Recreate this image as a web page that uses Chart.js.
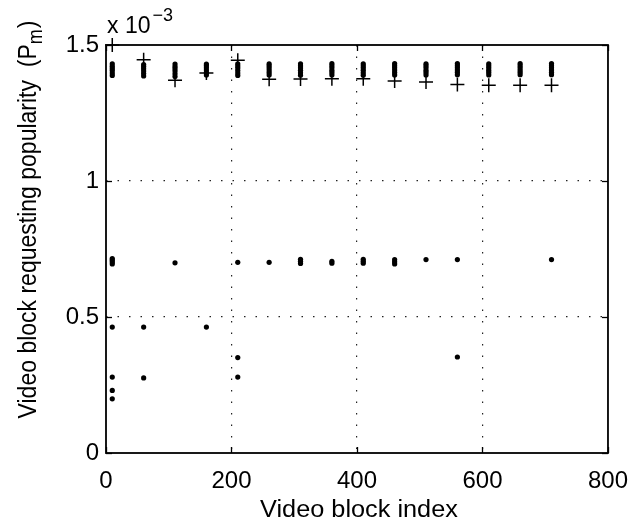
<!DOCTYPE html>
<html><head><meta charset="utf-8">
<script src="https://cdn.jsdelivr.net/npm/chart.js@4.4.0/dist/chart.umd.min.js"></script>
<style>html,body{margin:0;padding:0;background:#fff;}#wrap{width:642px;height:524px;}</style>
</head><body><div id="wrap"><canvas id="c" width="642" height="524"></canvas></div>
<script>
// Values of popularity are in units of 1e-3
const xTicks = [0, 200, 400, 600, 800];
const yTicks = [0, 0.5, 1, 1.5];
const blockIndex = [10, 60, 110, 160, 210, 260, 310, 360, 410, 460, 510, 560, 610, 660, 710];
// "+" markers, one per block
const plusValues = [1.500, 1.446, 1.370, 1.397, 1.444, 1.374, 1.375, 1.376, 1.376, 1.368, 1.364, 1.355, 1.352, 1.352, 1.352];
// dense dot stacks near the top, one list per block
const topStacks = [
  [1.388, 1.397, 1.406, 1.414, 1.422, 1.431],
  [1.386, 1.395, 1.404, 1.413, 1.421, 1.428],
  [1.384, 1.394, 1.404, 1.413, 1.421, 1.430],
  [1.390, 1.399, 1.408, 1.416, 1.424, 1.430],
  [1.388, 1.397, 1.406, 1.415, 1.423, 1.431],
  [1.390, 1.399, 1.408, 1.416, 1.424, 1.431],
  [1.389, 1.398, 1.407, 1.415, 1.423, 1.431],
  [1.390, 1.399, 1.407, 1.416, 1.424, 1.432],
  [1.389, 1.398, 1.407, 1.415, 1.423, 1.431],
  [1.390, 1.399, 1.408, 1.416, 1.424, 1.432],
  [1.390, 1.399, 1.407, 1.416, 1.424, 1.431],
  [1.391, 1.400, 1.408, 1.416, 1.424, 1.432],
  [1.390, 1.399, 1.407, 1.415, 1.423, 1.431],
  [1.391, 1.400, 1.408, 1.416, 1.424, 1.432],
  [1.391, 1.399, 1.408, 1.416, 1.424, 1.432]
];
// scattered dots at lower levels: block index and value
const lowDotBlock = [10, 10, 10, 10, 110, 210, 260, 310, 310, 310, 360, 360, 410, 410, 410, 460, 460, 460, 510, 560, 710,
                     10, 60, 160, 210, 560, 10, 60, 210, 10, 10];
const lowDotValue = [0.695, 0.702, 0.709, 0.715, 0.699, 0.701, 0.701, 0.697, 0.705, 0.712, 0.698, 0.705, 0.698, 0.705, 0.712, 0.695, 0.703, 0.711, 0.711, 0.711, 0.711,
                     0.463, 0.463, 0.463, 0.351, 0.353, 0.279, 0.276, 0.279, 0.230, 0.199];

const dotPoints = [];
blockIndex.forEach((b, i) => topStacks[i].forEach(v => dotPoints.push({x: b, y: v})));
lowDotBlock.forEach((b, i) => dotPoints.push({x: b, y: lowDotValue[i]}));
const plusPoints = blockIndex.map((b, i) => ({x: b, y: plusValues[i]}));

const FONT = '"Liberation Sans", Arial, Helvetica, sans-serif';

const framePlugin = {
  id: 'frame',
  afterDraw(chart) {
    const {ctx, chartArea: a, scales: {x, y}} = chart;
    ctx.save();
    ctx.strokeStyle = '#000';
    ctx.lineWidth = 1.3;
    const line = (x1, y1, x2, y2) => { ctx.beginPath(); ctx.moveTo(x1, y1); ctx.lineTo(x2, y2); ctx.stroke(); };
    x.ticks.forEach(t => {
      const p = Math.round(x.getPixelForValue(t.value)) + 0.5;
      line(p, a.bottom, p, a.bottom - 6);
      line(p, a.top, p, a.top + 6);
    });
    y.ticks.forEach(t => {
      const p = Math.round(y.getPixelForValue(t.value)) + 0.5;
      line(a.left, p, a.left + 6, p);
      line(a.right, p, a.right - 6, p);
    });
    ctx.lineWidth = 1.8;
    ctx.strokeRect(a.left, a.top, a.right - a.left, a.bottom - a.top);

    ctx.fillStyle = '#000';
    // x title
    ctx.save();
    ctx.font = '23px ' + FONT;
    ctx.textAlign = 'center';
    ctx.textBaseline = 'alphabetic';
    ctx.translate((a.left + a.right) / 2 + 2, 517);
    ctx.scale(1.1, 1);
    ctx.fillText('Video block index', 0, 0);
    ctx.restore();

    // y title with subscript
    ctx.save();
    const main = 'Video block requesting popularity  (P';
    ctx.font = '23px ' + FONT;
    const w1 = ctx.measureText(main).width;
    const w3 = ctx.measureText(')').width;
    ctx.font = '18px ' + FONT;
    const w2 = ctx.measureText('m').width;
    const total = w1 + w2 + w3;
    ctx.translate(36, 220);
    ctx.rotate(-Math.PI / 2);
    ctx.scale(1, 1.12);
    ctx.textAlign = 'left';
    ctx.textBaseline = 'alphabetic';
    let sx = -total / 2;
    ctx.font = '23px ' + FONT;
    ctx.fillText(main, sx, 0);
    ctx.font = '18px ' + FONT;
    ctx.fillText('m', sx + w1, 5);
    ctx.font = '23px ' + FONT;
    ctx.fillText(')', sx + w1 + w2 + 1, 0);
    ctx.restore();

    // exponent label
    ctx.save();
    ctx.textAlign = 'left';
    ctx.textBaseline = 'alphabetic';
    ctx.font = '23px ' + FONT;
    ctx.fillText('x 10', 107, 33);
    const wx = ctx.measureText('x 10').width;
    ctx.font = '18px ' + FONT;
    ctx.fillText('\u22123', 107 + wx + 2, 21);
    ctx.restore();
    ctx.restore();
  }
};

const gridColor = (c, lo, hi) => (c.tick && (c.tick.value === lo || c.tick.value === hi)) ? 'rgba(0,0,0,0)' : '#222';

new Chart(document.getElementById('c'), {
  type: 'scatter',
  data: {
    datasets: [
      {label: 'dots', data: dotPoints, pointStyle: 'circle', pointRadius: 2.6, pointHoverRadius: 2.6,
       backgroundColor: '#000', borderColor: '#000', borderWidth: 0},
      {label: 'plus', data: plusPoints, pointStyle: 'cross', pointRadius: 7, pointHoverRadius: 7,
       borderColor: '#000', borderWidth: 1.5}
    ]
  },
  options: {
    responsive: false,
    animation: false,
    devicePixelRatio: 1,
    clip: false,
    events: [],
    layout: {padding: {top: 45, right: 24, left: 0, bottom: 0}},
    plugins: {legend: {display: false}, tooltip: {enabled: false}},
    scales: {
      x: {
        type: 'linear', min: 0, max: 800,
        afterBuildTicks: s => { s.ticks = xTicks.map(v => ({value: v})); },
        afterFit: s => { s.height = 71; },
        grid: {drawTicks: false, lineWidth: 1.2, color: c => gridColor(c, 0, 800)},
        border: {display: false, dash: [1.5, 10]},
        ticks: {font: {family: FONT, size: 24}, color: '#000', padding: 14, maxRotation: 0, autoSkip: false,
                callback: v => String(v)}
      },
      y: {
        type: 'linear', min: 0, max: 1.5,
        afterBuildTicks: s => { s.ticks = yTicks.map(v => ({value: v})); },
        afterFit: s => { s.width = 106; },
        grid: {drawTicks: false, lineWidth: 1.2, color: c => gridColor(c, 0, 1.5)},
        border: {display: false, dash: [1.5, 10]},
        ticks: {font: {family: FONT, size: 24}, color: '#000', padding: 7, autoSkip: false,
                callback: v => String(v)}
      }
    }
  },
  plugins: [framePlugin]
});
</script></body></html>
